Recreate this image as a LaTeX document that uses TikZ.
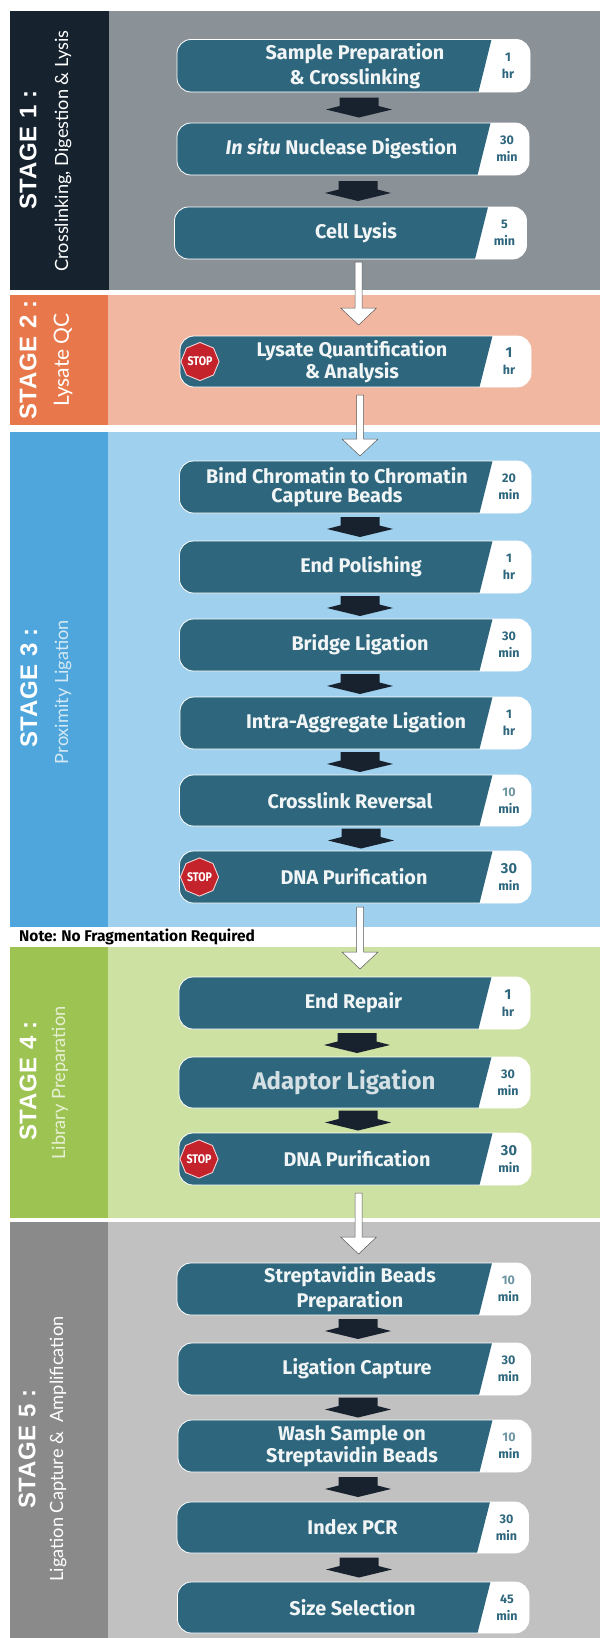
\documentclass[tikz,border=0pt]{standalone}
\usepackage{fontspec}
\usepackage{graphicx}
\usetikzlibrary{calc,shapes.geometric}
\setmainfont{Fira Sans}
\newfontfamily\stagefont{Liberation Sans}[LetterSpace=3]
\newfontfamily\subfont{Lato}
\definecolor{boxteal}{HTML}{2E677D}
\definecolor{arrowdark}{HTML}{17222E}
\definecolor{boxtext}{HTML}{F1F5F6}
\definecolor{stopred}{HTML}{C4232C}
\definecolor{sa}{HTML}{16222E}\definecolor{sb}{HTML}{8A9197}
\definecolor{ta}{HTML}{E8784B}\definecolor{tb}{HTML}{F1B7A1}
\definecolor{ua}{HTML}{4FA6DC}\definecolor{ub}{HTML}{9FD1EE}
\definecolor{va}{HTML}{9DC453}\definecolor{vb}{HTML}{CDE1A3}
\definecolor{wa}{HTML}{8A8A8A}\definecolor{wb}{HTML}{C2C1C2}
\newcommand{\timebig}{\fontsize{14.5}{19}\selectfont}
\newcommand{\timesoft}{\color{boxteal!70}}
\tikzset{
  panel/.style={inner sep=0pt,outer sep=0pt},
  stagetitle/.style={rotate=90,inner sep=0pt,text=white,font=\stagefont\bfseries\fontsize{24}{26}\selectfont},
  stagesub/.style={rotate=90,inner sep=0pt,text=white,font=\subfont\fontsize{18.2}{20}\selectfont},
  labeltext/.style={inner sep=0pt,align=center,text=boxtext,font=\bfseries\fontsize{19.8}{19.5}\selectfont},
  timetext/.style={inner sep=0pt,align=center,text=boxteal,font=\bfseries\fontsize{12.5}{17}\selectfont},
  stopsign/.style={regular polygon,regular polygon sides=8,shape border rotate=22.5,minimum size=36pt,inner sep=0pt,fill=stopred,draw=white!80!stopred,line width=.9pt,text=white,font=\bfseries\fontsize{12.5}{12.5}\selectfont},
  whitearrow/.style={fill=white,draw=black!65,line width=.5pt,line join=miter},
  darkarrow/.style={fill=arrowdark,draw=none}
}
% #1 id, #2 x1, #3 y1, #4 x2, #5 y2, #6 label x, #7 label, #8 time text, #9 label font tweaks
\newcommand{\stepbox}[9]{%
  \node[panel,fill=white,draw=white,line width=.8pt,rounded corners=14pt,
        minimum width={(#4-#2)*1pt},minimum height={(#5-#3)*1pt},
        path picture={\fill[boxteal,sharp corners] ($(path picture bounding box.north east)+(-38,-2)$) -- ($(path picture bounding box.south east)+(-52,2)$) -- ($(path picture bounding box.south west)+(-2,2)$) -- ($(path picture bounding box.north west)+(-2,-2)$) -- cycle;}]
    (#1) at ({(#2+#4)/2},{(#3+#5)/2}) {};
  \node[labeltext,#9] (#1l) at (#6,{(#3+#5)/2}) {#7};
  \node[timetext] (#1t) at (#4-22,{(#3+#5)/2}) {#8};
}
\newcommand{\stopmark}[1]{\node[stopsign,xshift=20pt] (#1s) at (#1.west) {\scalebox{.85}[1]{STOP}};}
\newcommand{\flowdark}[3]{%
  \coordinate (m#1#2) at ($(#1.south)!.5!(#2.north)$);
  \begin{scope}[shift={(#3,0 |- m#1#2)}]
    \path[darkarrow] (-19.5,-10) -- (19.5,-10) -- (19.5,-1.5) -- (33,2) -- (0,10) -- (-33,2) -- (-19.5,-1.5) -- cycle;
  \end{scope}}
% #1 from, #2 to, #3 x, #4 gap below from, #5 gap above to
\newcommand{\flowwhite}[5]{%
  \path[whitearrow] let \p1=(#1.south),\p2=(#2.north) in
    ({(#3-3.5)*1pt},{\y1-#4*1pt}) -- ({(#3+3.5)*1pt},{\y1-#4*1pt}) -- ({(#3+3.5)*1pt},{\y2+(#5+17)*1pt}) -- ({(#3+18)*1pt},{\y2+(#5+17)*1pt}) -- ({#3*1pt},{\y2+#5*1pt}) -- ({(#3-18)*1pt},{\y2+(#5+17)*1pt}) -- ({(#3-3.5)*1pt},{\y2+(#5+17)*1pt}) -- cycle;}
\begin{document}
\begin{tikzpicture}[x=1pt,y=-1pt]
\useasboundingbox (0,0) rectangle (600,1638);
\fill[white] (0,0) rectangle (600,1638);
% panels
\fill[sa] (10,11) rectangle (109,290);  \fill[sb] (109,11) rectangle (600,290);
\fill[ta] (10,295) rectangle (108,425); \fill[tb] (108,295) rectangle (600,425);
\fill[ua] (10,432) rectangle (108,927); \fill[ub] (108,432) rectangle (600,927);
\fill[va] (10,947) rectangle (108,1218);\fill[vb] (108,947) rectangle (600,1218);
\fill[wa] (10,1222) rectangle (108,1638);\fill[wb] (108,1222) rectangle (600,1638);
% stage labels
\node[stagetitle] (st1) at (28,150) {STAGE 1 :};
\node[stagesub] (su1) at (63,151) {Crosslinking, Digestion \& Lysis};
\node[stagetitle] (st2) at (28,360) {STAGE 2 :};
\node[stagesub,font=\subfont\fontsize{21}{23}\selectfont] (su2) at (63,360) {Lysate QC};
\node[stagetitle] (st3) at (29,688) {STAGE 3 :};
\node[stagesub,text=white!75!ua] (su3) at (63,692) {Proximity Ligation};
\node[stagetitle] (st4) at (28,1081) {STAGE 4 :};
\node[stagesub,text=white!75!va] (su4) at (60,1083) {Library Preparation};
\node[stagetitle] (st5) at (27,1449) {STAGE 5 :};
\node[stagesub] (su5) at (58,1449) {Ligation Capture \&\ \ Amplification};
\node[inner sep=0pt,anchor=west,text=black,font=\bfseries\fontsize{15.5}{17}\selectfont] (note) at (19,937) {Note: No Fragmentation Required};
% stage 1
\stepbox{a1}{177}{39.5}{530}{92}{355}{Sample Preparation\\[3.5pt]\& Crosslinking}{1\\hr}{}
\stepbox{a2}{177}{123}{529}{175}{341.5}{\textit{In situ} Nuclease Digestion}{30\\min}{}
\stepbox{a3}{174.5}{207}{526.5}{259}{356}{Cell Lysis}{5\\min}{}
% stage 2
\stepbox{b1}{180}{336}{531}{387}{352}{Lysate Quantification\\\& Analysis}{\timebig 1\\hr}{}
\stopmark{b1}
% stage 3
\stepbox{c1}{179.5}{461}{531}{513}{337}{Bind Chromatin to Chromatin\\Capture Beads}{20\\min}{}
\stepbox{c2}{179.5}{541}{531}{593}{361}{End Polishing}{1\\hr}{}
\stepbox{c3}{179.5}{619}{531}{671}{360}{Bridge Ligation}{30\\min}{}
\stepbox{c4}{180}{697}{531}{749}{356}{Intra-Aggregate Ligation}{1\\hr}{}
\stepbox{c5}{179.5}{775}{531}{826}{350}{Crosslink Reversal}{\timesoft 10\\min}{}
\stepbox{c6}{179.5}{851}{531}{903}{354}{DNA Purification}{\timebig 30\\min}{}
\stopmark{c6}
% stage 4
\stepbox{d1}{179}{977}{530}{1029}{353.5}{End Repair}{\timebig 1\\hr}{}
\stepbox{d2}{179}{1057}{530}{1108}{344}{Adaptor Ligation}{30\\min}{text=boxtext!85!boxteal,font=\bfseries\fontsize{24}{26}\selectfont}
\stepbox{d3}{179}{1133}{531}{1185}{357}{DNA Purification}{\timebig 30\\min}{}
\stopmark{d3}
% stage 5
\stepbox{e1}{177}{1263}{530.5}{1315}{350}{Streptavidin Beads\\[3.5pt]Preparation}{\timesoft 10\\min}{}
\stepbox{e2}{178}{1343}{530.5}{1395}{357}{Ligation Capture}{30\\min}{}
\stepbox{e3}{178}{1420}{531}{1472}{352}{Wash Sample on\\Streptavidin Beads}{\timesoft 10\\min}{}
\stepbox{e4}{177}{1502}{528.5}{1553}{352.5}{Index PCR}{30\\min}{}
\stepbox{e5}{177.5}{1582}{529}{1633}{352.5}{Size Selection}{45\\min}{}
% dark connectors
\flowdark{a1}{a2}{359}
\flowdark{a2}{a3}{358}
\flowdark{c1}{c2}{360}
\flowdark{c2}{c3}{360}
\flowdark{c3}{c4}{360}
\flowdark{c4}{c5}{360}
\flowdark{c5}{c6}{361}
\flowdark{d1}{d2}{357}
\flowdark{d2}{d3}{358}
\flowdark{e1}{e2}{358}
\flowdark{e2}{e3}{358}
\flowdark{e3}{e4}{358}
\flowdark{e4}{e5}{359}
% white connectors
\flowwhite{a3}{b1}{358.6}{3}{11}
\flowwhite{b1}{c1}{360}{8}{5}
\flowwhite{c6}{d1}{360}{4}{8}
\flowwhite{d3}{e1}{358.6}{8}{9}
\end{tikzpicture}
\end{document}
